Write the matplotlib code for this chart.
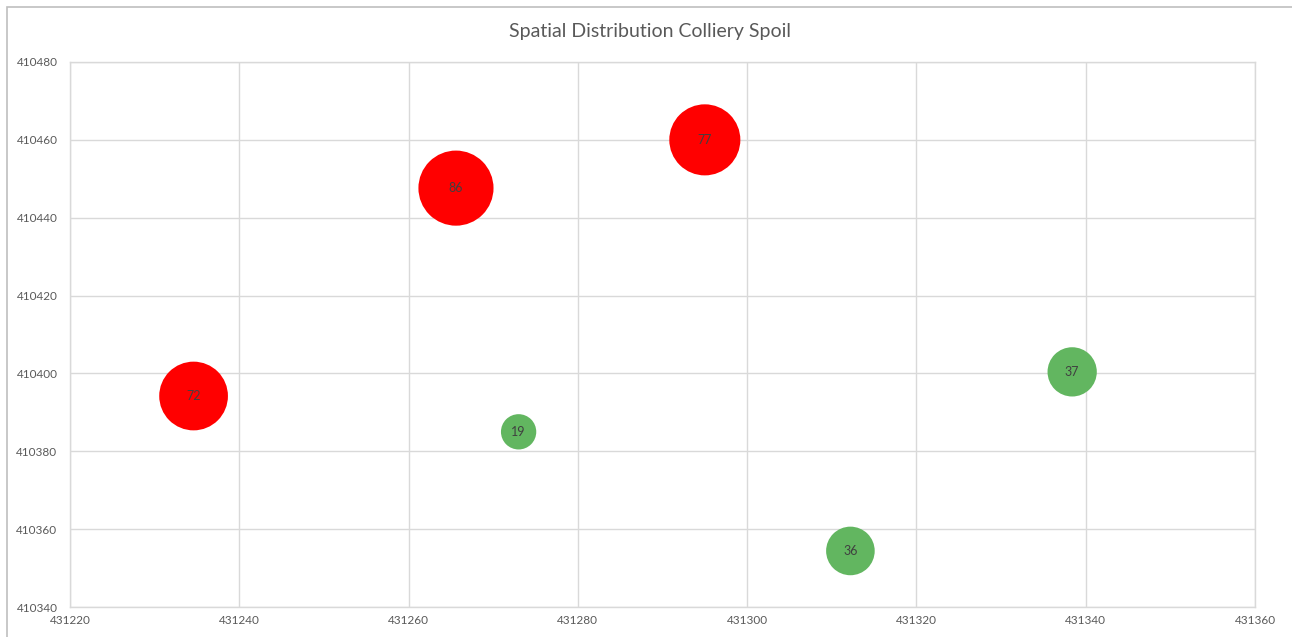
import matplotlib
matplotlib.use("Agg")
import matplotlib.pyplot as plt
from matplotlib.patches import Rectangle

plt.rcParams['font.family'] = ['Lato', 'DejaVu Sans']

# Sample locations (easting / northing) and spoil values
easting = [431234.6, 431265.6, 431295.0, 431273.0, 431312.2, 431338.4]
northing = [410394.2, 410447.6, 410460.0, 410385.0, 410354.4, 410400.4]
values = [72, 86, 77, 19, 36, 37]
threshold = 50

title = "Spatial Distribution Colliery Spoil"
x_ticks = [431220, 431240, 431260, 431280, 431300, 431320, 431340, 431360]
y_ticks = [410340, 410360, 410380, 410400, 410420, 410440, 410460, 410480]

RED = "#FF0000"
GREEN = "#62B660"

W, H, DPI = 1292, 637, 100
fig = plt.figure(figsize=(W / DPI, H / DPI), dpi=DPI)
ax = fig.add_axes([70 / W, 1 - 607 / H, (1255 - 70) / W, (607 - 62) / H])

# chart frame (top and left edges visible)
fig.patches.append(Rectangle((7 / W, -0.1), 1.2, (H - 7) / H + 0.1,
                             transform=fig.transFigure, fill=False,
                             edgecolor="#BFBFBF", linewidth=1.2, zorder=0))

colors = [RED if v > threshold else GREEN for v in values]
sizes = [34.0 * v for v in values]
ax.scatter(easting, northing, s=sizes, c=colors, linewidths=0, zorder=3)
for x, y, v in zip(easting, northing, values):
    ax.text(x, y, str(v), ha="center", va="center", fontsize=9,
            color="#404040", zorder=4)

ax.set_xlim(x_ticks[0], x_ticks[-1])
ax.set_ylim(y_ticks[0], y_ticks[-1])
ax.set_xticks(x_ticks)
ax.set_yticks(y_ticks)
ax.set_xticklabels([str(t) for t in x_ticks])
ax.set_yticklabels([str(t) for t in y_ticks])
ax.tick_params(axis="both", length=0, labelsize=8.5, labelcolor="#595959")
ax.tick_params(axis="x", pad=6)
ax.tick_params(axis="y", pad=9)
ax.grid(True, color="#D9D9D9", linewidth=1.0, zorder=0)
ax.set_axisbelow(True)
for side in ax.spines.values():
    side.set_color("#D9D9D9")
    side.set_linewidth(1.0)

fig.text(650 / W, 1 - 32 / H, title, ha="center", va="center",
         fontsize=14, color="#595959")

fig.savefig("out.png", dpi=DPI)
